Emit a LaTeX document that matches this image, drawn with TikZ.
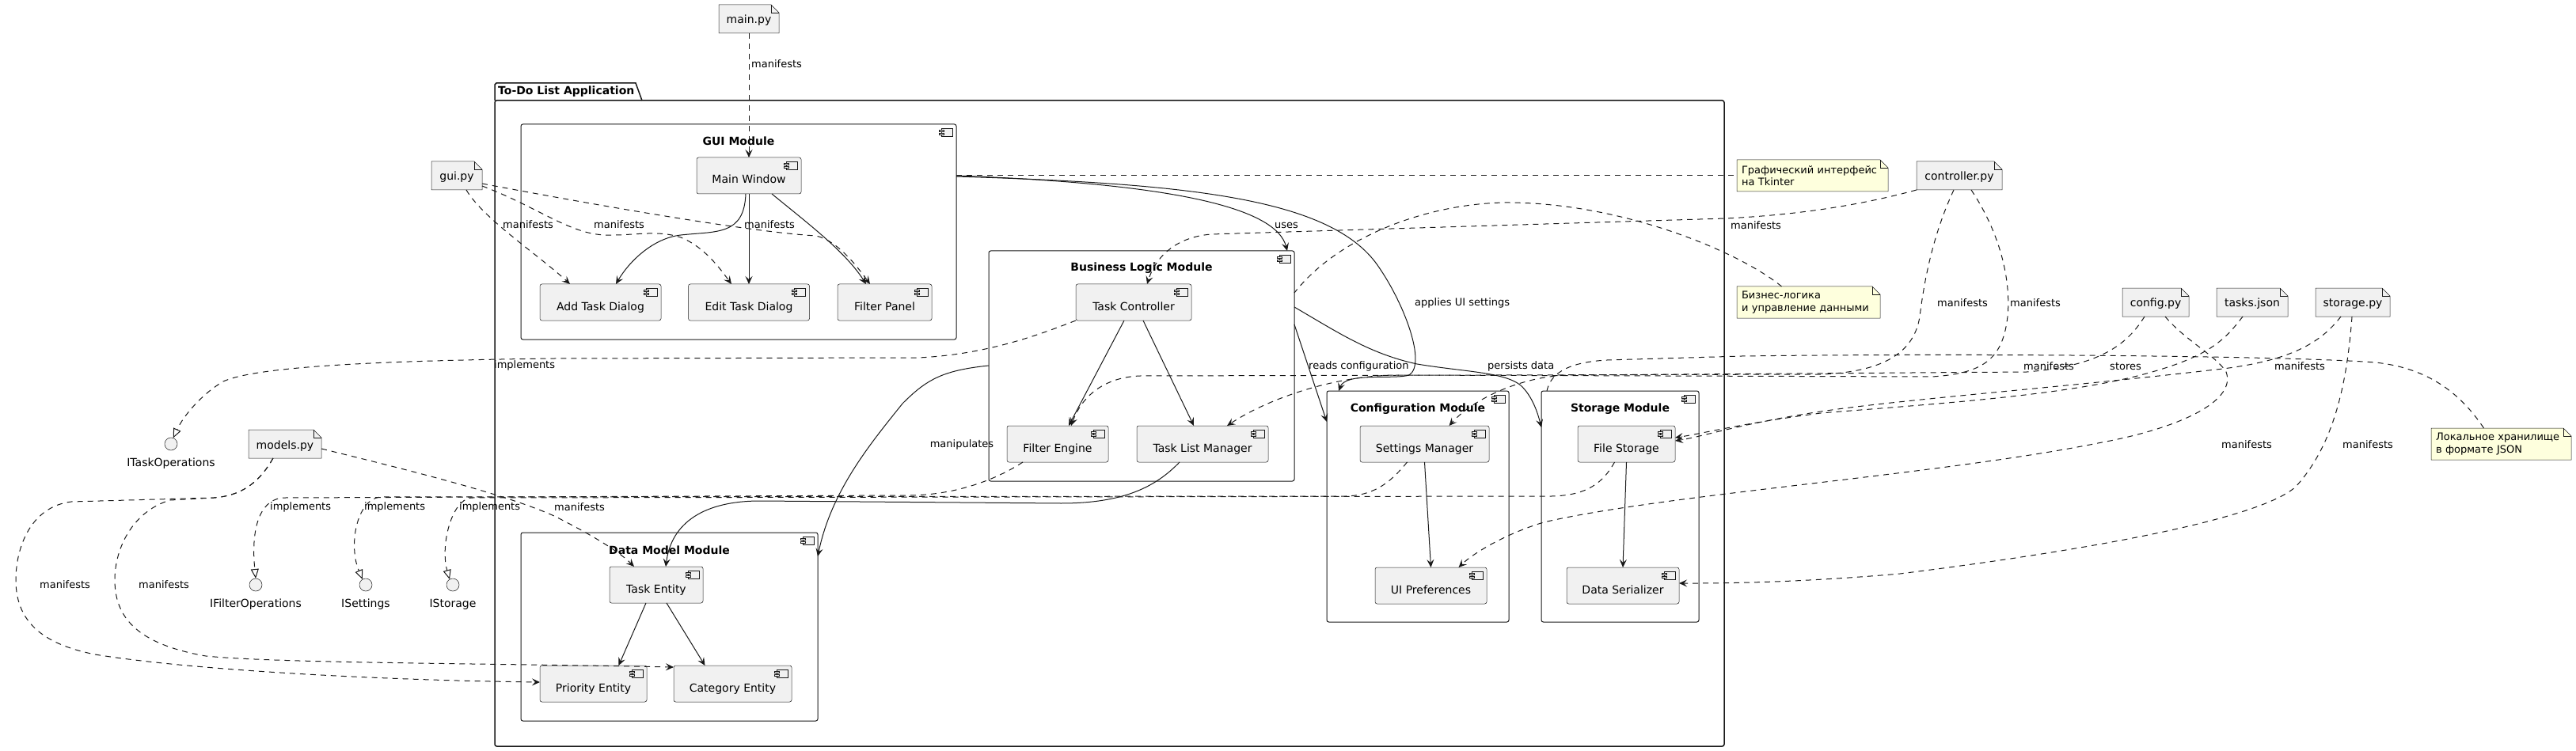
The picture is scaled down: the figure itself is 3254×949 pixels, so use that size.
\documentclass[tikz,border=0pt]{standalone}
\usepackage{fontspec}
\setmainfont{DejaVu Sans}
\usetikzlibrary{arrows.meta,backgrounds}
\definecolor{cfill}{HTML}{F1F1F1}
\definecolor{cborder}{HTML}{181818}
\definecolor{notefill}{HTML}{FEFFDD}
\newcommand{\myfa}{\fontsize{14pt}{17pt}\selectfont}
\newcommand{\myfb}{\fontsize{13pt}{15.6pt}\selectfont}
\tikzset{
  comp/.style={rectangle, draw=cborder, line width=0.5pt, fill=cfill, rounded corners=2.5pt,
    inner sep=0pt, outer sep=0pt, minimum height=46pt, font=\myfa, text height=20pt, text depth=0pt},
  module/.style={rectangle, draw=cborder, line width=1pt, rounded corners=2.5pt, inner sep=0pt, outer sep=0pt},
  pkgbody/.style={rectangle, draw=cborder, line width=1.5pt, rounded corners=2.5pt, inner sep=0pt, outer sep=0pt},
  modtitle/.style={font=\bfseries\myfa, inner sep=0pt},
  filebox/.style={inner sep=0pt, outer sep=0pt, minimum height=36pt, font=\myfa, text height=13pt, text depth=1pt},
  notebox/.style={inner sep=0pt, outer sep=0pt, minimum height=40pt, font=\myfb, align=left},
  iface/.style={circle, draw=cborder, line width=0.5pt, fill=cfill, minimum size=16pt, inner sep=0pt, outer sep=0pt},
  ilabel/.style={font=\myfa, inner sep=0pt},
  elabel/.style={font=\myfb, inner sep=0pt},
  conn/.style={draw=cborder, line width=1pt},
  dashline/.style={dash pattern=on 7pt off 6pt},
  dep/.style={conn, dashline, -{Stealth[length=10pt,width=9pt,inset=4pt]}},
  use/.style={conn, -{Stealth[length=10pt,width=9pt,inset=4pt]}},
  impl/.style={conn, dashline, -{Triangle[open,length=12pt,width=10pt]}},
  notelink/.style={conn, dashline},
  cicon/.pic={
    \draw[line width=0.5pt, draw=cborder, fill=cfill] (-19,5) rectangle (-5,15);
    \draw[line width=0.5pt, draw=cborder, fill=cfill] (-22,7) rectangle (-16,9) (-22,11) rectangle (-16,13);
  },
}
\begin{document}
\begin{tikzpicture}[x=1pt,y=-1pt]
\useasboundingbox (0,0) rectangle (3254,949);

% package
\draw[line width=1.5pt, draw=cborder, fill=white] (625,127) -- (625,107) -- (627,105) -- (803,105) -- (811,127);
\node[pkgbody, minimum width=1553pt, minimum height=816pt] (pkg) at (1401.5,535) {};
\node[modtitle, anchor=west] (pkgtitle) at (629,116) {To-Do List Application};

% modules
\node[module, minimum width=550pt, minimum height=272pt] (guimod) at (933,293) {};
\node[module, minimum width=386pt, minimum height=291pt] (blmod) at (1442,462.5) {};
\node[module, minimum width=230pt, minimum height=292pt] (cfgmod) at (1791,640) {};
\node[module, minimum width=199pt, minimum height=292pt] (stormod) at (2046.5,640) {};
\node[module, minimum width=375pt, minimum height=238pt] (dmmod) at (845.5,792) {};

\node[modtitle] (guititle) at (933,178) {GUI Module};
\node[modtitle] (bltitle) at (1442,339) {Business Logic Module};
\node[modtitle] (cfgtitle) at (1791,517) {Configuration Module};
\node[modtitle] (stortitle) at (2046.5,517) {Storage Module};
\node[modtitle] (dmtitle) at (845.5,695) {Data Model Module};

% components
\node[comp, minimum width=132pt] (mainwin) at (946,222) {Main Window};
\node[comp, minimum width=153pt] (addtask) at (758.5,382) {Add Task Dialog};
\node[comp, minimum width=153pt] (edittask) at (946,382) {Edit Task Dialog};
\node[comp, minimum width=119pt] (filterpanel) at (1117.5,382) {Filter Panel};
\node[comp, minimum width=146pt] (taskctrl) at (1432,382) {Task Controller};
\node[comp, minimum width=128pt] (filterengine) at (1336,561) {Filter Engine};
\node[comp, minimum width=166pt] (tasklistmgr) at (1519,561) {Task List Manager};
\node[comp, minimum width=163pt] (settingsmgr) at (1799.5,561) {Settings Manager};
\node[comp, minimum width=141pt] (uiprefs) at (1807.5,740) {UI Preferences};
\node[comp, minimum width=123pt] (filestorage) at (2054.5,561) {File Storage};
\node[comp, minimum width=142pt] (dataser) at (2050,740) {Data Serializer};
\node[comp, minimum width=118pt] (taskentity) at (829,739) {Task Entity};
\node[comp, minimum width=135pt] (priority) at (749.5,864) {Priority Entity};
\node[comp, minimum width=149pt] (category) at (925.5,864) {Category Entity};

\foreach \n in {guimod,blmod,cfgmod,stormod,dmmod,mainwin,addtask,edittask,filterpanel,taskctrl,filterengine,tasklistmgr,settingsmgr,uiprefs,filestorage,dataser,taskentity,priority,category}
  \pic at (\n.north east) {cicon};

% files
\node[filebox, minimum width=76pt] (mainpy) at (946,24) {main.py};
\node[filebox, minimum width=64pt] (guipy) at (577,222) {gui.py};
\node[filebox, minimum width=92pt] (modelspy) at (360,561) {models.py};
\node[filebox, minimum width=108pt] (controllerpy) at (2475,222) {controller.py};
\node[filebox, minimum width=84pt] (configpy) at (2723,382) {config.py};
\node[filebox, minimum width=90pt] (tasksjson) at (2845,382) {tasks.json};
\node[filebox, minimum width=94pt] (storagepy) at (2972,382) {storage.py};

% notes
\node[notebox, minimum width=191pt, text width=179pt] (note1) at (2289.5,222) {Графический интерфейс\\на Tkinter};
\node[notebox, minimum width=181pt, text width=169pt] (note2) at (2284.5,382) {Бизнес-логика\\и управление данными};
\node[notebox, minimum width=177pt, text width=165pt] (note3) at (3159.5,561) {Локальное хранилище\\в формате JSON};

\begin{scope}[on background layer]
\foreach \n in {mainpy,guipy,modelspy,controllerpy,configpy,tasksjson,storagepy} {
  \filldraw[fill=cfill, draw=cborder, line width=0.5pt] (\n.north west) -- ([xshift=-10pt]\n.north east) -- ([yshift=-10pt]\n.north east) -- (\n.south east) -- (\n.south west) -- cycle;
  \draw[cborder, line width=0.5pt] ([xshift=-10pt]\n.north east) -- ([xshift=-10pt,yshift=-10pt]\n.north east) -- ([yshift=-10pt]\n.north east);
}
\foreach \n in {note1,note2,note3} {
  \filldraw[fill=notefill, draw=cborder, line width=0.5pt] (\n.north west) -- ([xshift=-10pt]\n.north east) -- ([yshift=-10pt]\n.north east) -- (\n.south east) -- (\n.south west) -- cycle;
  \draw[cborder, line width=0.5pt] ([xshift=-10pt]\n.north east) -- ([xshift=-10pt,yshift=-10pt]\n.north east) -- ([yshift=-10pt]\n.north east);
}
\end{scope}

% interfaces
\node[iface] (itask) at (216,561) {};
\node[iface] (ifilter) at (323,739) {};
\node[iface] (isettings) at (462,739) {};
\node[iface] (istorage) at (572,739) {};
\node[ilabel] (itasklbl) at (216,586) {ITaskOperations};
\node[ilabel] (ifilterlbl) at (323,764) {IFilterOperations};
\node[ilabel] (isettingslbl) at (462,764) {ISettings};
\node[ilabel] (istoragelbl) at (572,764) {IStorage};

% ---- connectors ----
% main.py
\draw[dep] (mainpy.south) -- (mainwin.north);
\node[elabel, anchor=west] (lmain) at (949,81) {manifests};

% GUI internals
\draw[use] ([xshift=-4pt]mainwin.south) .. controls (940,298) and (905,292) .. (860,297) .. controls (825,301) and (795,330) .. ([xshift=19.5pt]addtask.north);
\draw[use] (mainwin.south) -- (edittask.north);
\draw[use] ([xshift=29pt]mainwin.south) .. controls (1020,282) and (1068,318) .. ([xshift=-23.5pt]filterpanel.north);

% gui.py
\draw[dep] ([xshift=12pt]guipy.south) .. controls (610,276) and (680,322) .. ([xshift=-38.5pt]addtask.north);
\draw[dep] ([yshift=-13pt]guipy.east) .. controls (680,262) and (720,296) .. (765,297) .. controls (800,298) and (830,290) .. (860,300) .. controls (890,312) and (910,340) .. ([xshift=-22pt]edittask.north);
\draw[dep] ([yshift=-10pt]guipy.east) .. controls (800,268) and (960,294) .. (1031,298) .. controls (1060,305) and (1085,340) .. ([xshift=-18.5pt]filterpanel.north);
\node[elabel, anchor=west] (lg1) at (635,284) {manifests};
\node[elabel, anchor=west] (lg2) at (750,284) {manifests};
\node[elabel, anchor=west] (lg3) at (940,284) {manifests};

% GUI module relations
\draw[use] ([yshift=-65pt]guimod.north east) .. controls (1480,232) and (1612,262) .. ([xshift=-9pt]blmod.north east);
\node[elabel] (luses) at (1625,285) {uses};
\draw[use] ([yshift=-66pt]guimod.north east) .. controls (1500,232) and (1680,250) .. (1740,335) .. controls (1775,385) and (1802,460) .. (1780,474) .. controls (1760,480) and (1700,470) .. ([xshift=15pt]cfgmod.north west);
\node[elabel, anchor=west] (lapplies) at (1787,383) {applies UI settings};
\draw[notelink] ([yshift=-65pt]guimod.north east) -- (note1.west);

% Business logic relations
\draw[use] ([yshift=-93pt]blmod.north east) -- ([yshift=-39pt]cfgmod.north west);
\node[elabel, anchor=west] (lreads) at (1653,463) {reads configuration};
\draw[use] ([yshift=-71pt]blmod.north east) .. controls (1690,420) and (1730,447) .. (1790,460) .. controls (1850,470) and (1900,470) .. (1921,487) .. controls (1935,500) and (1942,520) .. ([yshift=-46pt]stormod.north west);
\node[elabel, anchor=west] (lpersists) at (1879,463) {persists data};
\draw[use] ([yshift=-145pt]blmod.north west) .. controls (1190,468) and (1170,480) .. (1140,510) .. controls (1100,560) and (1050,620) .. ([yshift=-30pt]dmmod.north east);
\node[elabel] (lmanip) at (1215,562) {manipulates};
\draw[notelink] ([xshift=-34pt]note2.north) .. controls (2200,320) and (2050,255) .. (1900,256) .. controls (1800,258) and (1690,300) .. ([yshift=-53pt]blmod.north east);

% BL internals
\draw[use] ([xshift=-12pt]taskctrl.south) -- ([xshift=14pt]filterengine.north);
\draw[use] ([xshift=12pt]taskctrl.south) -- ([xshift=-11pt]tasklistmgr.north);
\draw[use] ([xshift=-29pt]tasklistmgr.south) .. controls (1460,615) and (1420,636) .. (1340,636) -- (960,633) .. controls (890,633) and (848,660) .. ([xshift=12pt]taskentity.north);

% implements
\draw[impl] (taskctrl.south west) .. controls (1320,420) and (1250,448) .. (1160,452) -- (700,453) .. controls (450,456) and (320,465) .. (282,482) .. controls (255,498) and (232,525) .. (itask.70);
\node[elabel, anchor=west] (limpl1) at (624,462) {implements};
\draw[impl] ([xshift=-44pt]filterengine.south) .. controls (1260,605) and (1210,625) .. (1150,626) -- (360,629) .. controls (332,629) and (316,660) .. (ifilter.north);
\node[elabel, anchor=west] (limpl2) at (341,641) {implements};
\draw[impl] ([xshift=-22pt]settingsmgr.south) .. controls (1760,605) and (1740,626) .. (1700,627) -- (480,628) .. controls (450,632) and (440,690) .. (isettings.120);
\node[elabel, anchor=west] (limpl3) at (460,641) {implements};
\draw[impl] ([xshift=-15pt]filestorage.south) .. controls (2025,610) and (2005,626) .. (1960,627) -- (595,629) .. controls (570,632) and (556,690) .. (istorage.120);
\node[elabel, anchor=west] (limpl4) at (580,641) {implements};

% internal module arrows
\draw[use] (settingsmgr.south) -- (uiprefs.north);
\draw[use] (filestorage.south) -- (dataser.north);
\draw[use] ([xshift=-13pt]taskentity.south) -- ([xshift=32pt]priority.north);
\draw[use] ([xshift=13pt]taskentity.south) -- ([xshift=-35pt]category.north);

% models.py
\draw[dep] ([yshift=-6pt]modelspy.east) .. controls (520,595) and (640,625) .. (700,652) .. controls (740,672) and (780,695) .. ([xshift=-28pt]taskentity.north);
\node[elabel, anchor=west] (lmod1) at (700,641) {manifests};
\draw[dep] ([xshift=-15pt]modelspy.south) .. controls (330,605) and (310,626) .. (270,629) -- (90,634) .. controls (40,640) and (20,690) .. (20,733) .. controls (20,790) and (60,815) .. (120,827) .. controls (250,848) and (500,860) .. ([yshift=2pt]priority.west);
\draw[dep] ([xshift=-15pt]modelspy.south) .. controls (330,605) and (310,626) .. (270,629) -- (215,632) .. controls (170,645) and (145,690) .. (145,733) .. controls (145,785) and (180,815) .. (260,829) .. controls (350,838) and (600,838) .. ([yshift=-2pt]category.north west);
\node[elabel, anchor=west] (lmod2) at (50,739) {manifests};
\node[elabel, anchor=west] (lmod3) at (175,739) {manifests};

% controller.py
\draw[dep] (controllerpy.south west) .. controls (2340,262) and (2260,272) .. (2180,276) -- (1530,296) .. controls (1480,300) and (1458,330) .. ([xshift=17pt]taskctrl.north);
\node[elabel, anchor=west] (lctl1) at (2186,285) {manifests};
\draw[dep] ([xshift=-7pt]controllerpy.south) .. controls (2440,300) and (2430,360) .. (2425,400) .. controls (2418,445) and (2380,470) .. (2300,473) -- (1440,475) .. controls (1390,477) and (1365,505) .. ([xshift=17pt]filterengine.north);
\node[elabel, anchor=west] (lctl2) at (2447,383) {manifests};
\draw[dep] ([xshift=15pt]controllerpy.south) .. controls (2530,300) and (2540,360) .. (2536,400) .. controls (2530,450) and (2510,472) .. (2440,476) -- (1760,474) .. controls (1680,476) and (1600,505) .. ([xshift=31pt]tasklistmgr.north);
\node[elabel, anchor=west] (lctl3) at (2539,383) {manifests};

% config.py
\draw[dep] ([xshift=-14pt]configpy.south) .. controls (2690,430) and (2660,462) .. (2560,470) -- (1980,474) .. controls (1920,476) and (1860,505) .. ([xshift=31pt]settingsmgr.north);
\node[elabel, anchor=west] (lcfg1) at (2556,463) {manifests};
\draw[dep] ([xshift=12pt]configpy.south) .. controls (2760,430) and (2800,450) .. (2812,470) .. controls (2825,505) and (2760,540) .. (2650,560) .. controls (2450,600) and (2100,625) .. (1950,660) .. controls (1900,675) and (1860,700) .. ([xshift=35pt]uiprefs.north);
\node[elabel, anchor=west] (lcfg2) at (2806,562) {manifests};

% tasks.json & storage.py
\draw[dep] ([xshift=-12pt]tasksjson.south) .. controls (2810,430) and (2790,452) .. (2700,475) .. controls (2600,500) and (2450,510) .. (2300,522) .. controls (2200,535) and (2150,548) .. ([yshift=8pt]filestorage.east);
\node[elabel, anchor=west] (lstores) at (2665,463) {stores};
\draw[dep] ([xshift=-15pt]storagepy.south) .. controls (2930,435) and (2890,458) .. (2790,468) .. controls (2600,490) and (2400,505) .. (2300,520) .. controls (2200,535) and (2150,552) .. ([yshift=4pt]filestorage.east);
\node[elabel, anchor=west] (lsto1) at (2873,463) {manifests};
\draw[dep] ([xshift=-1pt]storagepy.south) .. controls (2965,480) and (2950,560) .. (2900,615) .. controls (2850,660) and (2600,700) .. (2400,725) .. controls (2250,738) and (2150,737) .. ([yshift=3pt]dataser.east);
\node[elabel, anchor=west] (lsto2) at (2959,562) {manifests};

% note3
\draw[notelink] ([xshift=-22pt]note3.north) .. controls (3110,500) and (3070,465) .. (3000,458) .. controls (2900,450) and (2500,446) .. (2200,450) -- (2030,455) .. controls (1975,458) and (1958,475) .. ([xshift=7pt]stormod.north west);

\end{tikzpicture}
\end{document}
